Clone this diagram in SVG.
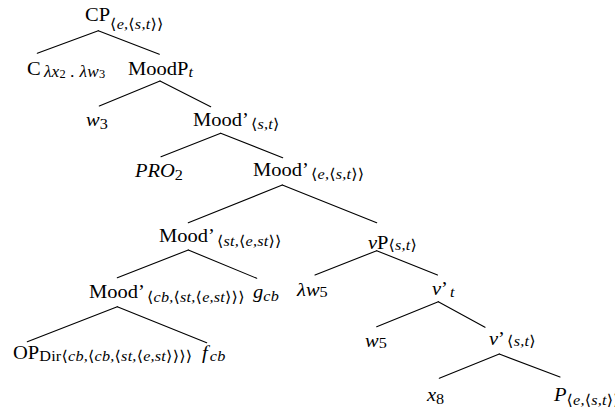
<svg xmlns="http://www.w3.org/2000/svg" width="615" height="409" viewBox="0 0 615 409">
<style>
.m{font-family:"Liberation Serif","Times New Roman",serif;font-size:19px;fill:#000}
.i{font-style:italic}
.s{font-size:15px;font-style:italic;letter-spacing:0.2px}
.u{font-style:normal}
.b{font-family:"DejaVu Serif","Liberation Serif",serif;font-style:normal}
.ss{font-size:11.5px;font-style:normal}
.e line{stroke:#000;stroke-width:1.1;stroke-linecap:round}
</style>
<rect width="615" height="409" fill="#fff"/>
<g id="edges" class="e">
<line x1="98.3" y1="30.7" x2="37.3" y2="53.3"/>
<line x1="98.3" y1="30.7" x2="159.3" y2="54.3"/>
<line x1="160" y1="81" x2="99.3" y2="106"/>
<line x1="160" y1="81" x2="210.7" y2="106.7"/>
<line x1="220.7" y1="133.3" x2="161" y2="156.7"/>
<line x1="220.7" y1="133.3" x2="282.7" y2="157.7"/>
<line x1="282.3" y1="185" x2="188.3" y2="222.7"/>
<line x1="282.3" y1="185" x2="376.7" y2="222.7"/>
<line x1="188.3" y1="250" x2="117.3" y2="277.7"/>
<line x1="188.3" y1="250" x2="256.7" y2="278.3"/>
<line x1="117.3" y1="306.7" x2="27.3" y2="341.7"/>
<line x1="117.3" y1="306.7" x2="206.7" y2="342.7"/>
<line x1="376.7" y1="250.7" x2="315" y2="275"/>
<line x1="376.7" y1="250.7" x2="437.5" y2="275"/>
<line x1="438.3" y1="301.7" x2="376.7" y2="326.7"/>
<line x1="438.3" y1="301.7" x2="485" y2="327.3"/>
<line x1="499.3" y1="354" x2="439.3" y2="378.3"/>
<line x1="499.3" y1="354" x2="560" y2="377"/>
</g>
<g id="n-cp" transform="translate(85,20.5) scale(1.08,1)"><text class="m">CP<tspan class="s" dy="8"><tspan class="b">⟨</tspan>e,<tspan class="b">⟨</tspan>s,t<tspan class="b">⟩⟩</tspan></tspan></text></g>
<g id="n-c" transform="translate(27,75) scale(1.08,1)"><text class="m">C<tspan class="s" dx="3" dy="2" style="font-size:16px">λx<tspan class="ss" dy="1">2</tspan><tspan dy="-1"> . λw</tspan><tspan class="ss" dy="1">3</tspan></tspan></text></g>
<g id="n-moodp" transform="translate(128,75) scale(1.08,1)"><text class="m">MoodP<tspan class="s" dy="2">t</tspan></text></g>
<g id="n-w3" transform="translate(86,126) scale(1.08,1)"><text class="m"><tspan class="i">w</tspan><tspan class="s u" dy="3">3</tspan></text></g>
<g id="n-mood1" transform="translate(193,126) scale(1.08,1)"><text class="m">Mood’<tspan class="s" dx="2" dy="3"><tspan class="b">⟨</tspan>s,t<tspan class="b">⟩</tspan></tspan></text></g>
<g id="n-pro2" transform="translate(135,177) scale(1.08,1)"><text class="m"><tspan class="i">PRO</tspan><tspan class="s u" dy="3">2</tspan></text></g>
<g id="n-mood2" transform="translate(253,176) scale(1.08,1)"><text class="m">Mood’<tspan class="s" dx="2" dy="3"><tspan class="b">⟨</tspan>e,<tspan class="b">⟨</tspan>s,t<tspan class="b">⟩⟩</tspan></tspan></text></g>
<g id="n-mood3" transform="translate(159,242) scale(1.08,1)"><text class="m">Mood’<tspan class="s" dx="2" dy="3.5"><tspan class="b">⟨</tspan>st,<tspan class="b">⟨</tspan>e,st<tspan class="b">⟩⟩</tspan></tspan></text></g>
<g id="n-vp" transform="translate(368,248.5) scale(1.08,1)"><text class="m"><tspan class="i">v</tspan>P<tspan class="s" dy="1"><tspan class="b">⟨</tspan>s,t<tspan class="b">⟩</tspan></tspan></text></g>
<g id="n-mood4" transform="translate(89,298) scale(1.08,1)"><text class="m">Mood’<tspan class="s" dx="2" dy="3.5"><tspan class="b">⟨</tspan>cb,<tspan class="b">⟨</tspan>st,<tspan class="b">⟨</tspan>e,st<tspan class="b">⟩⟩⟩</tspan></tspan></text></g>
<g id="n-gcb" transform="translate(253,298) scale(1.08,1)"><text class="m"><tspan class="i">g</tspan><tspan class="s" dy="2.5">cb</tspan></text></g>
<g id="n-lw5" transform="translate(297,295.5) scale(1.08,1)"><text class="m"><tspan class="i">λw</tspan><tspan class="s u" dy="1.5">5</tspan></text></g>
<g id="n-vbar1" transform="translate(432,295) scale(1.08,1)"><text class="m"><tspan class="i">v</tspan>’<tspan class="s" dx="2" dy="1.5">t</tspan></text></g>
<g id="n-opdir" transform="translate(13,359) scale(1.08,1)"><text class="m">OP<tspan class="s" dy="1.5"><tspan class="u">Dir</tspan><tspan class="b">⟨</tspan>cb,<tspan class="b">⟨</tspan>cb,<tspan class="b">⟨</tspan>st,<tspan class="b">⟨</tspan>e,st<tspan class="b">⟩⟩⟩⟩</tspan></tspan></text></g>
<g id="n-fcb" transform="translate(202,359) scale(1.08,1)"><text class="m"><tspan class="i">f</tspan><tspan class="s" dx="2" dy="1.5">cb</tspan></text></g>
<g id="n-w5" transform="translate(365,346.5) scale(1.08,1)"><text class="m"><tspan class="i">w</tspan><tspan class="s u" dy="1.5">5</tspan></text></g>
<g id="n-vbar2" transform="translate(489,345) scale(1.08,1)"><text class="m"><tspan class="i">v</tspan>’<tspan class="s" dx="2" dy="1"><tspan class="b">⟨</tspan>s,t<tspan class="b">⟩</tspan></tspan></text></g>
<g id="n-x8" transform="translate(427,401) scale(1.08,1)"><text class="m"><tspan class="i">x</tspan><tspan class="s u" dy="3">8</tspan></text></g>
<g id="n-p" transform="translate(554,401) scale(1.08,1)"><text class="m"><tspan class="i">P</tspan><tspan class="s" dy="4"><tspan class="b">⟨</tspan>e,<tspan class="b">⟨</tspan>s,t<tspan class="b">⟩⟩</tspan></tspan></text></g>
</svg>
